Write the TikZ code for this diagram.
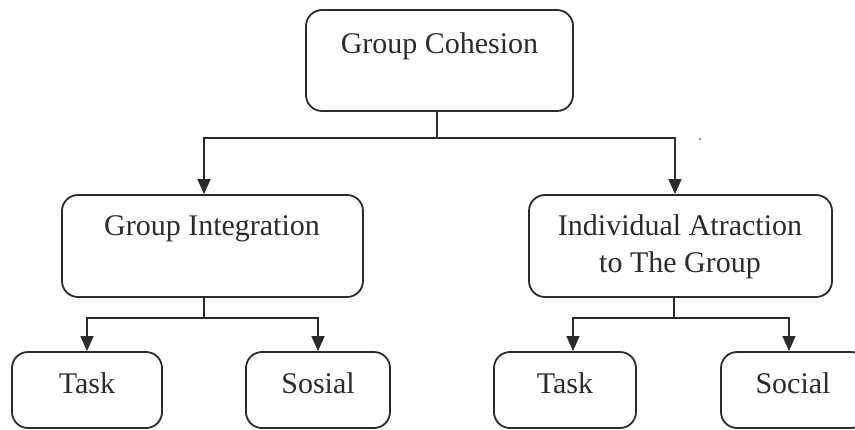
\documentclass[tikz,border=0pt]{standalone}
\usepackage{fontspec}
\setmainfont{Liberation Serif}
\usetikzlibrary{arrows.meta,calc}
\definecolor{ink}{HTML}{2B2B2B}
\begin{document}
\begin{tikzpicture}[x=1pt,y=-1pt,
  box/.style={draw=ink,line width=1.8pt,rounded corners=16pt,inner sep=0pt},
  lbl/.style={font=\fontsize{30}{37}\selectfont,text=ink,anchor=base,inner sep=0pt},
  conn/.style={draw=ink,line width=1.4pt},
  arr/.style={conn,-{Triangle[width=13pt,length=15pt]}}]
\useasboundingbox (0,0) rectangle (855,429);
% boxes
\node[box,minimum width=267pt,minimum height=101pt] (coh) at (439.5,60.5) {};
\node[box,minimum width=301pt,minimum height=102pt] (gi) at (212.5,246) {};
\node[box,minimum width=303pt,minimum height=102pt] (ia) at (680.5,246) {};
\node[box,minimum width=150pt,minimum height=76pt] (t1) at (87,390) {};
\node[box,minimum width=144pt,minimum height=76pt] (s1) at (318,390) {};
\node[box,minimum width=142pt,minimum height=76pt] (t2) at (565,390) {};
\node[box,minimum width=146pt,minimum height=76pt] (s2) at (794,390) {};
% texts
\node[lbl] (cohT) at (439.5,53) {Group Cohesion};
\node[lbl] (giT) at (212,235) {Group Integration};
\node[lbl] (iaT1) at (680,235) {Individual Atraction};
\node[lbl] (iaT2) at (680,272) {to The Group};
\node[lbl] (t1T) at (87,393) {Task};
\node[lbl] (s1T) at (318,393) {Sosial};
\node[lbl] (t2T) at (565,393) {Task};
\node[lbl] (s2T) at (793,393) {Social};
% connectors
\coordinate (j0) at (437,138);
\draw[conn] (coh.south -| j0) -- (j0);
\draw[arr] (j0) -| ($(gi.north)+(-8.5,0)$);
\draw[arr] (j0) -| ($(ia.north)+(-5.5,0)$);
\coordinate (j1) at (204,318);
\draw[conn] (gi.south -| j1) -- (j1);
\draw[arr] (j1) -| (t1.north);
\draw[arr] (j1) -| (s1.north);
\coordinate (j2) at (674,318);
\draw[conn] (ia.south -| j2) -- (j2);
\draw[arr] (j2) -| ($(t2.north)+(8,0)$);
\draw[arr] (j2) -| ($(s2.north)+(-5,0)$);
% speck
\fill[ink] (700,139) circle (0.9pt);
\end{tikzpicture}
\end{document}
